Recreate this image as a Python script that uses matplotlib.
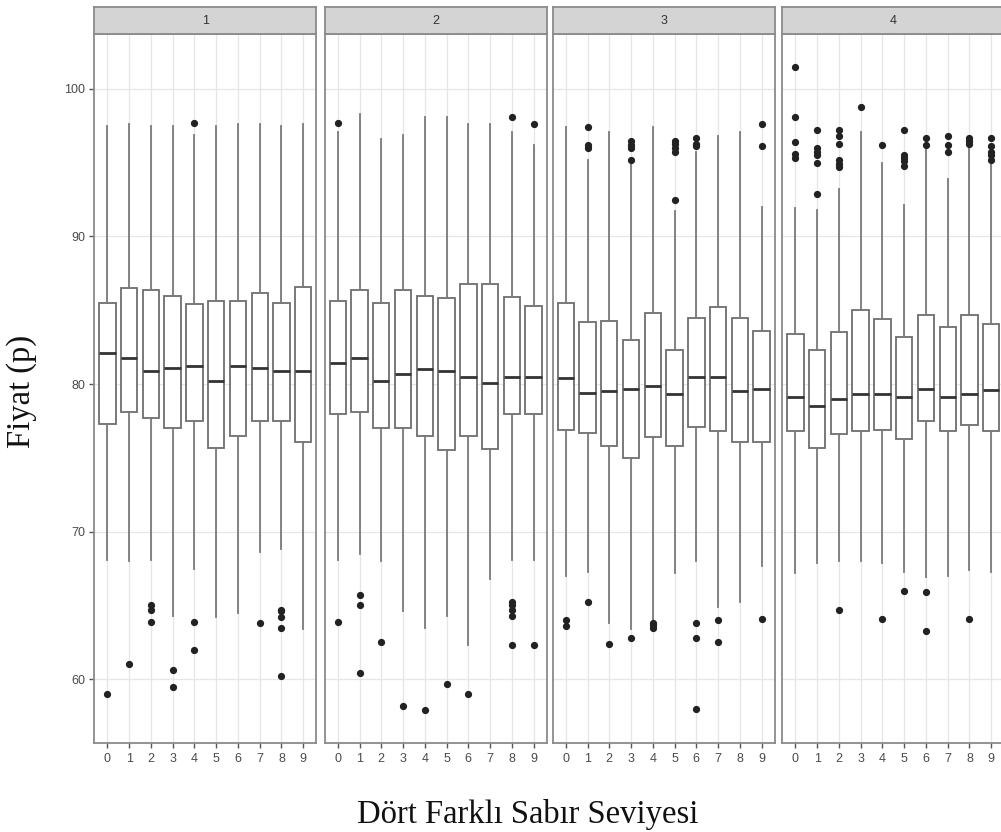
import matplotlib
matplotlib.use('Agg')
import matplotlib.pyplot as plt
from matplotlib.ticker import MultipleLocator

# facet labels and x categories
panels = ['1', '2', '3', '4']
levels = list(range(10))

# box statistics per panel
whislo = [
    [68.1, 68.0, 68.1, 64.3, 67.5, 64.2, 64.5, 68.6, 68.8, 63.4],
    [68.1, 68.5, 68.0, 64.6, 63.5, 64.3, 62.3, 66.8, 68.1, 68.1],
    [67.0, 67.3, 63.8, 63.4, 64.0, 67.2, 68.0, 64.9, 65.2, 67.7],
    [67.2, 67.9, 68.0, 68.0, 67.9, 67.3, 66.9, 67.0, 67.4, 67.3],
]
q1 = [
    [77.3, 78.1, 77.7, 77.0, 77.5, 75.7, 76.5, 77.5, 77.5, 76.1],
    [78.0, 78.1, 77.0, 77.0, 76.5, 75.5, 76.5, 75.6, 78.0, 78.0],
    [76.9, 76.7, 75.8, 75.0, 76.4, 75.8, 77.1, 76.8, 76.1, 76.1],
    [76.8, 75.7, 76.6, 76.8, 76.9, 76.3, 77.5, 76.8, 77.2, 76.8],
]
med = [
    [82.1, 81.8, 80.9, 81.1, 81.2, 80.2, 81.2, 81.1, 80.9, 80.9],
    [81.4, 81.8, 80.2, 80.7, 81.0, 80.9, 80.5, 80.1, 80.5, 80.5],
    [80.4, 79.4, 79.5, 79.7, 79.9, 79.3, 80.5, 80.5, 79.5, 79.7],
    [79.1, 78.5, 79.0, 79.3, 79.3, 79.1, 79.7, 79.1, 79.3, 79.6],
]
q3 = [
    [85.5, 86.5, 86.4, 86.0, 85.4, 85.6, 85.6, 86.2, 85.5, 86.6],
    [85.6, 86.4, 85.5, 86.4, 86.0, 85.8, 86.8, 86.8, 85.9, 85.3],
    [85.5, 84.2, 84.3, 83.0, 84.8, 82.3, 84.5, 85.2, 84.5, 83.6],
    [83.4, 82.3, 83.5, 85.0, 84.4, 83.2, 84.7, 83.9, 84.7, 84.1],
]
whishi = [
    [97.5, 97.6, 97.5, 97.5, 96.9, 97.5, 97.6, 97.6, 97.5, 97.6],
    [97.1, 98.3, 96.6, 96.9, 98.1, 98.1, 97.6, 97.6, 97.1, 96.2],
    [97.4, 95.2, 97.1, 94.9, 97.4, 91.7, 95.7, 96.8, 97.1, 92.0],
    [91.9, 91.8, 93.2, 97.1, 95.0, 92.1, 95.9, 93.9, 96.0, 94.9],
]
outliers = [
    [[59.0], [61.0], [65.0, 64.7, 63.9], [60.6, 59.5], [97.7, 63.9, 62.0],
     [], [], [63.8], [64.7, 64.6, 64.2, 63.5, 60.2], []],
    [[97.7, 63.9], [65.7, 65.0, 60.4], [62.5], [58.2], [57.9], [59.7], [59.0],
     [], [98.1, 65.2, 65.0, 64.7, 64.3, 62.3], [97.6, 62.3]],
    [[64.0, 63.6], [97.4, 96.2, 96.0, 65.2], [62.4], [96.5, 96.2, 96.0, 95.2, 62.8],
     [63.8, 63.7, 63.5], [96.5, 96.3, 96.0, 95.7, 92.5], [96.7, 96.3, 96.1, 63.8, 62.8, 58.0],
     [64.0, 62.5], [], [97.6, 96.1, 64.1]],
    [[101.5, 98.1, 96.4, 95.6, 95.3], [97.2, 96.0, 95.7, 95.5, 95.0, 92.9],
     [97.2, 96.8, 96.3, 95.2, 94.9, 94.7, 64.7], [98.8], [96.2, 64.1],
     [97.2, 95.5, 95.3, 95.1, 94.8, 66.0], [96.7, 96.2, 65.9, 63.3],
     [96.8, 96.2, 95.7], [96.7, 96.5, 96.3, 64.1], [96.7, 96.1, 95.7, 95.5, 95.2]],
]

W, H = 1001, 832
fig = plt.figure(figsize=(W / 100, H / 100), dpi=100)

lefts = [94.3, 324.7, 552.7, 782.3]
pw = 222
strip_top, strip_bot, plot_bot = 6.7, 34.3, 742.7
edge = '#8a8a8a'
tick_font = dict(family='Liberation Sans', size=9, color='#4a4a4a')

for i, left in enumerate(lefts):
    ax = fig.add_axes([left / W, 1 - plot_bot / H, pw / W, (plot_bot - strip_bot) / H])
    stats = []
    for j in levels:
        stats.append(dict(whislo=whislo[i][j], q1=q1[i][j], med=med[i][j],
                          q3=q3[i][j], whishi=whishi[i][j], fliers=outliers[i][j]))
    ax.bxp(stats, positions=levels, widths=0.75, showcaps=False, patch_artist=True,
           boxprops=dict(facecolor='white', edgecolor='#6e6e6e', linewidth=1.3),
           whiskerprops=dict(color='#7a7a7a', linewidth=1.3),
           medianprops=dict(color='#333333', linewidth=2.0),
           flierprops=dict(marker='o', markersize=4.2, markerfacecolor='#222222',
                           markeredgecolor='#222222'),
           zorder=3)
    ax.set_xlim(-0.6, 9.6)
    ax.set_ylim(55.7, 103.7)
    ax.yaxis.set_major_locator(MultipleLocator(10))
    ax.grid(True, which='major', color='#e6e6e6', linewidth=0.9, zorder=0)
    ax.set_axisbelow(True)
    ax.set_xticks(levels)
    ax.set_xticklabels([str(v) for v in levels], **tick_font)
    ax.tick_params(axis='x', length=3.5, width=1.0, color='#555555', pad=4)
    if i == 0:
        ax.tick_params(axis='y', length=3.5, width=1.0, color='#555555', pad=3)
        for lab in ax.get_yticklabels():
            lab.set_fontfamily('Liberation Sans')
            lab.set_fontsize(9)
            lab.set_color('#4a4a4a')
    else:
        ax.tick_params(axis='y', length=0, labelleft=False)
    for s in ax.spines.values():
        s.set_color(edge)
        s.set_linewidth(1.3)

    sax = fig.add_axes([left / W, 1 - strip_bot / H, pw / W, (strip_bot - strip_top) / H])
    sax.set_facecolor('#d4d4d4')
    sax.set_xticks([])
    sax.set_yticks([])
    for s in sax.spines.values():
        s.set_color(edge)
        s.set_linewidth(1.3)
    sax.text(0.5, 0.5, panels[i], ha='center', va='center', transform=sax.transAxes,
             family='Liberation Sans', size=9, color='#333333')

fig.text(528 / W, 1 - 814 / H, 'Dört Farklı Sabır Seviyesi', ha='center', va='center',
         family='Liberation Serif', size=23.5, color='#111111')
fig.text(22 / W, 1 - 391 / H, 'Fiyat (p)', ha='center', va='center', rotation=90,
         family='Liberation Serif', size=23.5, color='#111111')

fig.savefig('out.png', dpi=100)
